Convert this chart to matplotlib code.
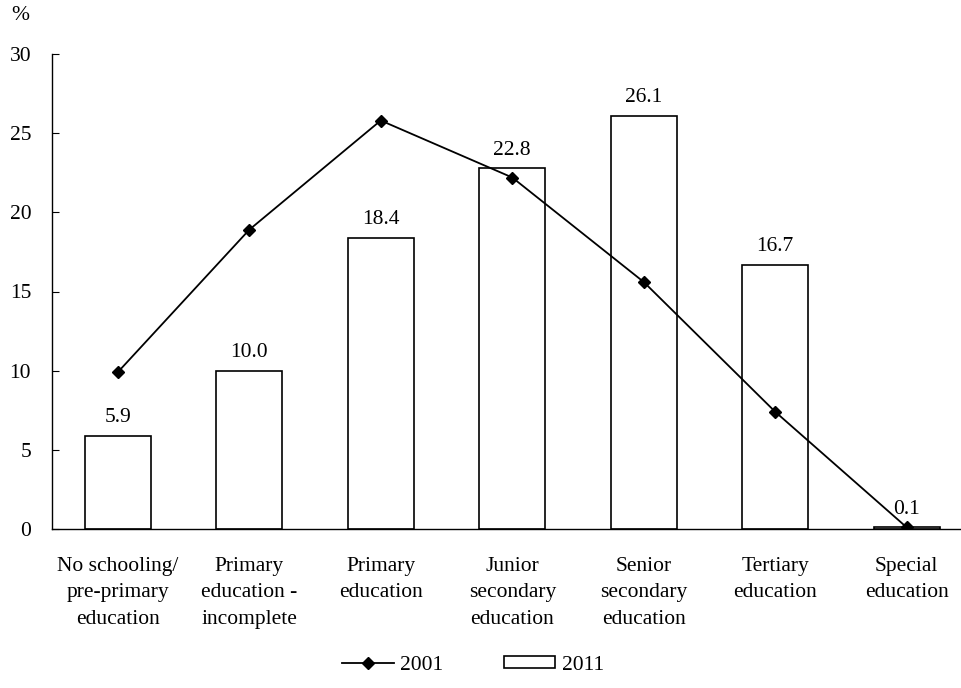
import matplotlib
matplotlib.use("Agg")
import matplotlib.pyplot as plt
import numpy as np

categories = ["No schooling/\npre-primary\neducation", "Primary\neducation -\nincomplete",
              "Primary\neducation", "Junior\nsecondary\neducation", "Senior\nsecondary\neducation",
              "Tertiary\neducation", "Special\neducation"]
values_2011 = [5.9, 10.0, 18.4, 22.8, 26.1, 16.7, 0.1]
values_2001 = [9.9, 18.9, 25.8, 22.2, 15.6, 7.4, 0.1]
yticks = [0, 5, 10, 15, 20, 25, 30]

plt.rcParams['font.family'] = ['Liberation Serif', 'DejaVu Serif']
FS = 15.5

fig = plt.figure(figsize=(9.62, 6.88), dpi=100)
ax = fig.add_axes([52/962, 1-529/688, (962-52)/962, (529-54)/688])

x = np.arange(len(categories))
bars = ax.bar(x, values_2011, width=0.5, color='white', edgecolor='black', linewidth=1.2, label='2011', zorder=2)
line, = ax.plot(x, values_2001, color='black', linewidth=1.3, marker='D', markersize=6, label='2001', zorder=3)

for xi, v in zip(x, values_2011):
    ax.annotate(f"{v:.1f}", (xi, v), xytext=(0, 6), textcoords='offset points',
                ha='center', va='bottom', fontsize=FS)

ax.set_xlim(-0.5, 6.42)
ax.set_ylim(0, 30)
ax.set_yticks(yticks)
ax.set_xticks(x)
ax.set_xticklabels(categories, fontsize=FS, linespacing=1.55)
ax.tick_params(axis='x', length=0, pad=20)
ax.tick_params(axis='y', direction='in', length=5, labelsize=FS, pad=15)
for s in ['top', 'right']:
    ax.spines[s].set_visible(False)
ax.spines['left'].set_linewidth(1.0)
ax.spines['bottom'].set_linewidth(1.0)

fig.text(20/962, 1-16/688, "%", fontsize=FS, ha='center', va='center')

fig.legend([line, bars], ['2001', '2011'], loc='center', bbox_to_anchor=(473/962, 1-665/688),
           ncol=2, frameon=False, fontsize=FS, handlelength=2.4, columnspacing=2.8,
           handletextpad=0.3, handleheight=0.5)

fig.savefig("out.png", dpi=100)
